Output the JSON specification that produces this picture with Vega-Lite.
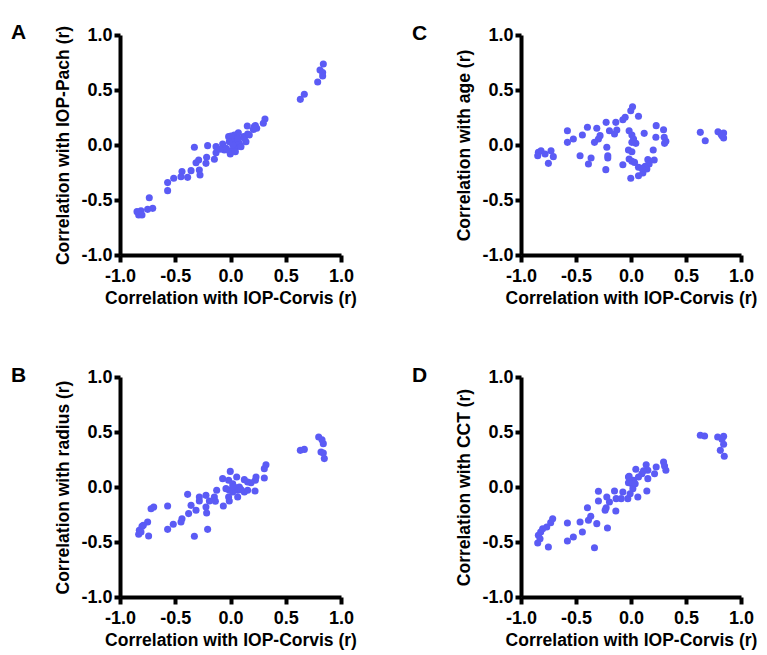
{
  "$schema": "https://vega.github.io/schema/vega-lite/v6.json",
  "background": "white",
  "padding": {"left": 10, "top": 21, "right": 2, "bottom": 2},
  "config": {
    "font": "Liberation Sans",
    "locale": {"number": {"decimal": ".", "thousands": ",", "grouping": [3], "currency": ["$", ""], "minus": "-"}},
    "view": {"stroke": "white"},
    "axis": {
      "grid": false,
      "domainColor": "#000000",
      "domainWidth": 4,
      "tickColor": "#000000",
      "tickWidth": 4,
      "values": [-1, -0.5, 0, 0.5, 1],
      "format": ".1f",
      "labelFontSize": 18,
      "labelFontWeight": "bold",
      "labelColor": "black",
      "labelFlush": false,
      "titleFontSize": 17.5,
      "titleFontWeight": "bold",
      "titleColor": "black"
    },
    "axisX": {"tickSize": 7, "labelPadding": 5, "titlePadding": 4},
    "axisY": {"tickSize": 6, "labelPadding": 2, "titlePadding": 8},
    "title": {"fontSize": 21, "fontWeight": "bold", "color": "black", "anchor": "start", "frame": "bounds"},
    "circle": {"size": 50, "opacity": 1, "color": "#5B5BF5"}
  },
  "datasets": {
    "A": [
      {"x": 0.840, "y": 0.736}, {"x": 0.810, "y": 0.682}, {"x": 0.834, "y": 0.658}, {"x": 0.834, "y": 0.627},
      {"x": 0.789, "y": 0.573}, {"x": 0.668, "y": 0.461}, {"x": 0.632, "y": 0.415},
      {"x": 0.312, "y": 0.236}, {"x": 0.297, "y": 0.197}, {"x": 0.225, "y": 0.176}, {"x": 0.207, "y": 0.142},
      {"x": 0.152, "y": 0.173}, {"x": 0.155, "y": 0.100}, {"x": 0.119, "y": 0.076}, {"x": 0.140, "y": 0.030},
      {"x": 0.071, "y": 0.112}, {"x": 0.035, "y": 0.091}, {"x": -0.017, "y": 0.076}, {"x": 0.020, "y": 0.045},
      {"x": 0.056, "y": -0.015}, {"x": 0.035, "y": -0.030}, {"x": -0.002, "y": -0.082}, {"x": -0.071, "y": 0.009},
      {"x": -0.056, "y": -0.045}, {"x": -0.131, "y": -0.015}, {"x": -0.131, "y": -0.070}, {"x": -0.146, "y": -0.130},
      {"x": -0.216, "y": -0.112}, {"x": -0.207, "y": -0.006}, {"x": -0.222, "y": -0.167}, {"x": -0.288, "y": -0.136},
      {"x": -0.282, "y": -0.227}, {"x": -0.276, "y": -0.273}, {"x": -0.312, "y": -0.161}, {"x": -0.327, "y": -0.021},
      {"x": -0.357, "y": -0.233}, {"x": -0.388, "y": -0.294}, {"x": -0.439, "y": -0.242}, {"x": -0.448, "y": -0.288},
      {"x": -0.514, "y": -0.303}, {"x": -0.569, "y": -0.342}, {"x": -0.569, "y": -0.415}, {"x": -0.735, "y": -0.479},
      {"x": -0.704, "y": -0.576}, {"x": -0.750, "y": -0.585}, {"x": -0.810, "y": -0.597}, {"x": -0.825, "y": -0.621},
      {"x": -0.831, "y": -0.636}, {"x": -0.801, "y": -0.636}, {"x": -0.846, "y": -0.606},
      {"x": -0.041, "y": -0.030}, {"x": -0.011, "y": -0.052}, {"x": 0.050, "y": 0.015}, {"x": 0.080, "y": 0.015},
      {"x": 0.095, "y": -0.015}, {"x": 0.020, "y": 0.000}, {"x": 0.065, "y": 0.061}, {"x": 0.005, "y": 0.082},
      {"x": -0.011, "y": 0.030}, {"x": -0.095, "y": -0.039}, {"x": 0.125, "y": 0.061}, {"x": 0.170, "y": 0.091},
      {"x": 0.237, "y": 0.152}, {"x": 0.216, "y": 0.167}, {"x": 0.044, "y": -0.061}
    ],
    "C": [
      {"x": 0.014, "y": 0.348}, {"x": -0.002, "y": 0.312}, {"x": 0.068, "y": 0.261}, {"x": -0.053, "y": 0.252},
      {"x": -0.074, "y": 0.230}, {"x": -0.138, "y": 0.206}, {"x": -0.226, "y": 0.206}, {"x": -0.196, "y": 0.130},
      {"x": -0.129, "y": 0.136}, {"x": -0.150, "y": 0.100}, {"x": -0.311, "y": 0.152}, {"x": -0.281, "y": 0.085},
      {"x": -0.296, "y": 0.055}, {"x": -0.332, "y": 0.024}, {"x": -0.396, "y": 0.161}, {"x": -0.442, "y": 0.091},
      {"x": -0.524, "y": 0.055}, {"x": -0.578, "y": 0.130}, {"x": -0.578, "y": 0.024}, {"x": -0.017, "y": 0.130},
      {"x": 0.008, "y": 0.091}, {"x": 0.023, "y": 0.055}, {"x": 0.044, "y": 0.015}, {"x": 0.008, "y": 0.024},
      {"x": 0.120, "y": 0.106}, {"x": 0.229, "y": 0.176}, {"x": 0.226, "y": 0.070}, {"x": 0.296, "y": 0.139},
      {"x": 0.302, "y": 0.070}, {"x": 0.317, "y": 0.033}, {"x": 0.305, "y": 0.015}, {"x": 0.630, "y": 0.115},
      {"x": 0.675, "y": 0.039}, {"x": 0.791, "y": 0.121}, {"x": 0.818, "y": 0.100}, {"x": 0.842, "y": 0.109},
      {"x": 0.842, "y": 0.064}, {"x": 0.827, "y": 0.085}, {"x": -0.842, "y": -0.067}, {"x": -0.848, "y": -0.097},
      {"x": -0.818, "y": -0.052}, {"x": -0.781, "y": -0.082}, {"x": -0.727, "y": -0.052}, {"x": -0.706, "y": -0.106},
      {"x": -0.751, "y": -0.167}, {"x": -0.463, "y": -0.097}, {"x": -0.387, "y": -0.173}, {"x": -0.363, "y": -0.118},
      {"x": -0.220, "y": -0.021}, {"x": -0.211, "y": -0.097}, {"x": -0.211, "y": -0.118}, {"x": -0.229, "y": -0.224},
      {"x": -0.074, "y": -0.179}, {"x": -0.023, "y": -0.045}, {"x": -0.017, "y": -0.127}, {"x": 0.008, "y": -0.148},
      {"x": 0.032, "y": -0.158}, {"x": 0.008, "y": -0.061}, {"x": -0.002, "y": -0.303}, {"x": 0.068, "y": -0.203},
      {"x": 0.068, "y": -0.279}, {"x": 0.108, "y": -0.255}, {"x": 0.129, "y": -0.194}, {"x": 0.153, "y": -0.133},
      {"x": 0.165, "y": -0.173}, {"x": 0.144, "y": -0.218}, {"x": 0.202, "y": -0.045}, {"x": 0.211, "y": -0.136},
      {"x": 0.099, "y": -0.212}
    ],
    "B": [
      {"x": 0.798, "y": 0.455}, {"x": 0.828, "y": 0.430}, {"x": 0.840, "y": 0.394}, {"x": 0.819, "y": 0.318},
      {"x": 0.840, "y": 0.309}, {"x": 0.849, "y": 0.258}, {"x": 0.632, "y": 0.333}, {"x": 0.668, "y": 0.342},
      {"x": 0.321, "y": 0.203}, {"x": 0.306, "y": 0.167}, {"x": 0.306, "y": 0.082}, {"x": 0.231, "y": 0.091},
      {"x": 0.225, "y": 0.061}, {"x": 0.222, "y": -0.036}, {"x": 0.186, "y": 0.039}, {"x": 0.155, "y": 0.045},
      {"x": 0.125, "y": 0.067}, {"x": 0.125, "y": -0.045}, {"x": 0.080, "y": 0.000}, {"x": 0.056, "y": 0.091},
      {"x": -0.002, "y": 0.142}, {"x": -0.071, "y": 0.076}, {"x": -0.017, "y": 0.061}, {"x": 0.020, "y": 0.030},
      {"x": 0.035, "y": 0.000}, {"x": 0.065, "y": -0.030}, {"x": 0.020, "y": -0.045}, {"x": -0.011, "y": -0.030},
      {"x": -0.017, "y": -0.091}, {"x": -0.011, "y": -0.127}, {"x": 0.065, "y": -0.091}, {"x": -0.041, "y": -0.015},
      {"x": -0.065, "y": -0.173}, {"x": -0.125, "y": -0.030}, {"x": -0.146, "y": -0.091}, {"x": -0.137, "y": -0.130},
      {"x": -0.191, "y": -0.127}, {"x": -0.222, "y": -0.076}, {"x": -0.222, "y": -0.182}, {"x": -0.216, "y": -0.236},
      {"x": -0.207, "y": -0.385}, {"x": -0.282, "y": -0.091}, {"x": -0.282, "y": -0.127}, {"x": -0.312, "y": -0.212},
      {"x": -0.327, "y": -0.448}, {"x": -0.357, "y": -0.167}, {"x": -0.388, "y": -0.067}, {"x": -0.379, "y": -0.242},
      {"x": -0.439, "y": -0.288}, {"x": -0.448, "y": -0.318}, {"x": -0.518, "y": -0.339}, {"x": -0.569, "y": -0.173},
      {"x": -0.569, "y": -0.385}, {"x": -0.695, "y": -0.182}, {"x": -0.719, "y": -0.197}, {"x": -0.750, "y": -0.318},
      {"x": -0.741, "y": -0.445}, {"x": -0.801, "y": -0.358}, {"x": -0.825, "y": -0.394}, {"x": -0.831, "y": -0.430},
      {"x": -0.810, "y": -0.409}, {"x": -0.789, "y": -0.348}, {"x": 0.050, "y": -0.015}, {"x": 0.020, "y": 0.000},
      {"x": 0.095, "y": -0.024}, {"x": 0.155, "y": -0.030}
    ],
    "D": [
      {"x": 0.630, "y": 0.470}, {"x": 0.669, "y": 0.464}, {"x": 0.788, "y": 0.455}, {"x": 0.842, "y": 0.461},
      {"x": 0.827, "y": 0.433}, {"x": 0.842, "y": 0.388}, {"x": 0.812, "y": 0.333}, {"x": 0.848, "y": 0.279},
      {"x": 0.296, "y": 0.227}, {"x": 0.305, "y": 0.191}, {"x": 0.317, "y": 0.152}, {"x": 0.229, "y": 0.182},
      {"x": 0.214, "y": 0.121}, {"x": 0.138, "y": 0.203}, {"x": 0.153, "y": 0.152}, {"x": 0.153, "y": 0.076},
      {"x": 0.144, "y": -0.036}, {"x": 0.099, "y": 0.121}, {"x": 0.068, "y": 0.091}, {"x": 0.044, "y": 0.161},
      {"x": 0.062, "y": -0.091}, {"x": 0.023, "y": 0.061}, {"x": 0.008, "y": 0.030}, {"x": -0.017, "y": 0.097},
      {"x": -0.023, "y": 0.039}, {"x": 0.017, "y": -0.015}, {"x": -0.008, "y": -0.061}, {"x": -0.029, "y": -0.106},
      {"x": -0.074, "y": -0.045}, {"x": -0.089, "y": -0.106}, {"x": -0.150, "y": -0.036}, {"x": -0.135, "y": -0.106},
      {"x": -0.138, "y": -0.218}, {"x": -0.196, "y": -0.136}, {"x": -0.220, "y": -0.091}, {"x": -0.226, "y": -0.188},
      {"x": -0.235, "y": -0.212}, {"x": -0.214, "y": -0.373}, {"x": -0.296, "y": -0.039}, {"x": -0.296, "y": -0.127},
      {"x": -0.311, "y": -0.333}, {"x": -0.332, "y": -0.552}, {"x": -0.366, "y": -0.267}, {"x": -0.387, "y": -0.303},
      {"x": -0.396, "y": -0.188}, {"x": -0.442, "y": -0.409}, {"x": -0.463, "y": -0.318}, {"x": -0.524, "y": -0.455},
      {"x": -0.578, "y": -0.327}, {"x": -0.578, "y": -0.491}, {"x": -0.712, "y": -0.288}, {"x": -0.730, "y": -0.324},
      {"x": -0.766, "y": -0.364}, {"x": -0.751, "y": -0.545}, {"x": -0.803, "y": -0.379}, {"x": -0.821, "y": -0.409},
      {"x": -0.842, "y": -0.439}, {"x": -0.827, "y": -0.470}, {"x": -0.848, "y": -0.509}, {"x": -0.023, "y": 0.091},
      {"x": 0.038, "y": 0.030}, {"x": 0.114, "y": 0.148}
    ]
  },
  "columns": 2,
  "spacing": {"row": 57, "column": 54},
  "concat": [
    {
      "title": {"text": "A", "dx": -44, "dy": 22},
      "width": 221, "height": 220,
      "data": {"name": "A"},
      "mark": "circle",
      "encoding": {
        "x": {"field": "x", "type": "quantitative", "scale": {"domain": [-1, 1], "nice": false}, "title": "Correlation with IOP-Corvis (r)"},
        "y": {"field": "y", "type": "quantitative", "scale": {"domain": [-1, 1], "nice": false}, "title": "Correlation with IOP-Pach (r)"}
      }
    },
    {
      "title": {"text": "C", "dx": -44, "dy": 22},
      "width": 220, "height": 220,
      "data": {"name": "C"},
      "mark": "circle",
      "encoding": {
        "x": {"field": "x", "type": "quantitative", "scale": {"domain": [-1, 1], "nice": false}, "title": "Correlation with IOP-Corvis (r)"},
        "y": {"field": "y", "type": "quantitative", "scale": {"domain": [-1, 1], "nice": false}, "title": "Correlation with age (r)"}
      }
    },
    {
      "title": {"text": "B", "dx": -44, "dy": 22},
      "width": 221, "height": 220,
      "data": {"name": "B"},
      "mark": "circle",
      "encoding": {
        "x": {"field": "x", "type": "quantitative", "scale": {"domain": [-1, 1], "nice": false}, "title": "Correlation with IOP-Corvis (r)"},
        "y": {"field": "y", "type": "quantitative", "scale": {"domain": [-1, 1], "nice": false}, "title": "Correlation with radius (r)"}
      }
    },
    {
      "title": {"text": "D", "dx": -44, "dy": 22},
      "width": 220, "height": 220,
      "data": {"name": "D"},
      "mark": "circle",
      "encoding": {
        "x": {"field": "x", "type": "quantitative", "scale": {"domain": [-1, 1], "nice": false}, "title": "Correlation with IOP-Corvis (r)"},
        "y": {"field": "y", "type": "quantitative", "scale": {"domain": [-1, 1], "nice": false}, "title": "Correlation with CCT (r)"}
      }
    }
  ]
}
